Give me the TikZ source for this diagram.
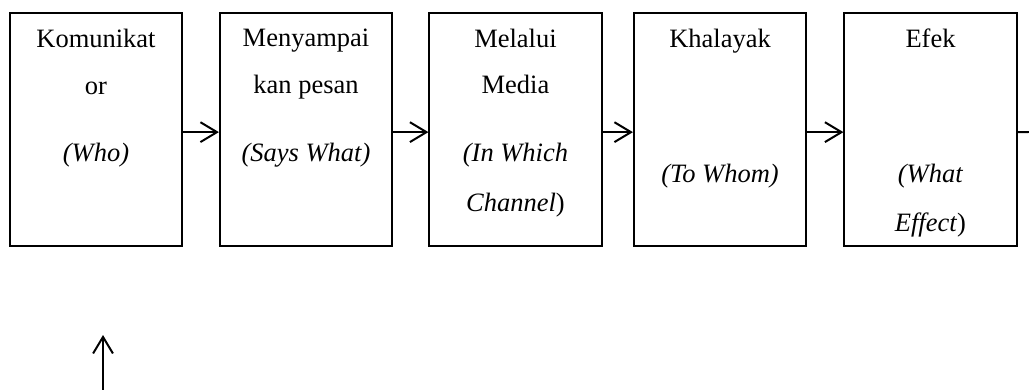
\documentclass[tikz,border=0pt]{standalone}
\usepackage{fontspec}
\setmainfont{Liberation Serif}
\usetikzlibrary{arrows.meta}

\begin{document}
\begin{tikzpicture}[x=0.453pt, y=-0.453pt,
		kotak/.style={draw, line width=0.9pt, minimum width=78pt, minimum height=105.5pt, inner sep=0pt},
		teks/.style={anchor=base, inner sep=0pt, font=\fontsize{12}{14}\selectfont},
		garis/.style={line width=0.9pt},
		panah/.style={garis, -{Straight Barb[length=7.5pt,width=9pt]}}]
			\useasboundingbox (0,0) rectangle (1029,390);

			% Kaesten
			\node[kotak] (komunikator) at (96,129.5) {};
			\node[kotak] (pesan) at (306,129.5) {};
			\node[kotak] (media) at (515.5,129.5) {};
			\node[kotak] (khalayak) at (720,129.5) {};
			\node[kotak] (efek) at (930.5,129.5) {};

			% Texte Kasten 1
			\node[teks] (t11) at (96,48) {Komunikat};
			\node[teks] (t12) at (96,95) {or};
			\node[teks] (t13) at (96,162) {\textit{(Who)}};

			% Texte Kasten 2
			\node[teks] (t21) at (306,47) {Menyampai};
			\node[teks] (t22) at (306,94) {kan pesan};
			\node[teks] (t23) at (306,162) {\textit{(Says What)}};

			% Texte Kasten 3
			\node[teks] (t31) at (515.5,48) {Melalui};
			\node[teks] (t32) at (515.5,94) {Media};
			\node[teks] (t33) at (515.5,162) {\textit{(In Which}};
			\node[teks] (t34) at (515.5,212) {\textit{Channel})};

			% Texte Kasten 4
			\node[teks] (t41) at (720,48) {Khalayak};
			\node[teks] (t42) at (720,182) {\textit{(To Whom)}};

			% Texte Kasten 5
			\node[teks] (t51) at (930.5,48) {Efek};
			\node[teks] (t52) at (930.5,182) {\textit{(What}};
			\node[teks] (t53) at (930.5,232) {\textit{Effect})};

			% Pfeile zwischen den Kaesten
			\draw[panah] ([yshift=-1.2pt]komunikator.east) -- ([yshift=-1.2pt]pesan.west);
			\draw[panah] ([yshift=-1.2pt]pesan.east) -- ([yshift=-1.2pt]media.west);
			\draw[panah] ([yshift=-1.2pt]media.east) -- ([yshift=-1.2pt]khalayak.west);
			\draw[panah] ([yshift=-1.2pt]khalayak.east) -- ([yshift=-1.2pt]efek.west);

			% Linie nach rechts
			\coordinate (ujung) at (1029,132);
			\draw[garis] ([yshift=-1.2pt]efek.east) -- (ujung);

			% Pfeil nach oben
			\coordinate (bawah) at (103,390);
			\coordinate (atas) at (103,335);
			\draw[panah] (bawah) -- (atas);

		\end{tikzpicture}
\end{document}
